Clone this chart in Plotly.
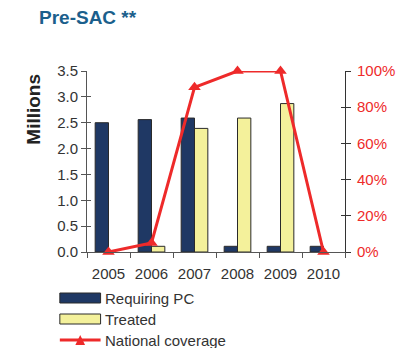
import plotly.graph_objects as go

# Pre-school-age children: people requiring preventive chemotherapy vs treated
years = ["2005", "2006", "2007", "2008", "2009", "2010"]
requiring_pc = [2.50, 2.56, 2.59, 0.11, 0.11, 0.11]   # millions
treated = [None, 0.11, 2.39, 2.59, 2.87, None]        # millions (no treatment reported -> None)
coverage = [0, 5, 91, 100, 100, 0]                    # national coverage, %

left_ticks = [0, 0.5, 1.0, 1.5, 2.0, 2.5, 3.0, 3.5]
left_labels = ["0.0", "0.5", "1.0", "1.5", "2.0", "2.5", "3.0", "3.5"]
right_ticks = [0, 20, 40, 60, 80, 100]
right_labels = ["0%", "20%", "40%", "60%", "80%", "100%"]

NAVY = "#1f3864"
YELLOW = "#f4f19b"
RED = "#ee2a2a"
EDGE = "#2a2a2a"
TXT = "#333333"
FONT = "Liberation Sans, Arial, sans-serif"

fig = go.Figure()
fig.add_trace(go.Bar(x=years, y=requiring_pc, name="Requiring PC",
                     marker=dict(color=NAVY, line=dict(color=EDGE, width=1)),
                     yaxis="y"))
fig.add_trace(go.Bar(x=years, y=treated, name="Treated",
                     marker=dict(color=YELLOW, line=dict(color=EDGE, width=1)),
                     yaxis="y"))
fig.add_trace(go.Scatter(x=years, y=coverage, name="National coverage",
                         mode="lines+markers", yaxis="y2", cliponaxis=False,
                         line=dict(color=RED, width=3),
                         marker=dict(symbol="triangle-up", size=11, color=RED)))

W, H = 407, 348
L, R, T, B = 87, 54, 71, 96
pw, ph = W - L - R, H - T - B


def px(x):
    return (x - L) / pw


def py(y):
    return (H - B - y) / ph


shapes = []
annotations = []
# Legend drawn as swatches below the chart
legend_rows = [
    ("Requiring PC", "bar", NAVY, 298),
    ("Treated", "bar", YELLOW, 319),
    ("National coverage", "line", RED, 340),
]
for label, kind, color, yc in legend_rows:
    if kind == "bar":
        shapes.append(dict(type="rect", xref="paper", yref="paper",
                           x0=px(59), x1=px(101), y0=py(yc - 5), y1=py(yc + 5),
                           fillcolor=color, line=dict(color=EDGE, width=1)))
    else:
        shapes.append(dict(type="line", xref="paper", yref="paper",
                           x0=px(59), x1=px(101), y0=py(yc), y1=py(yc),
                           line=dict(color=color, width=3)))
        shapes.append(dict(type="path", xref="paper", yref="paper",
                           path=f"M {px(75)},{py(yc + 5)} L {px(85)},{py(yc + 5)} "
                                f"L {px(80)},{py(yc - 5)} Z",
                           fillcolor=color, line=dict(color=color, width=0)))
    annotations.append(dict(text=label, xref="paper", yref="paper",
                            x=px(104), y=py(yc), xanchor="left", yanchor="middle",
                            showarrow=False, font=dict(size=15, color=TXT, family=FONT)))

annotations.append(dict(text="<b>Millions</b>", xref="paper", yref="paper",
                        x=px(31), y=py(109), textangle=-90, showarrow=False,
                        xanchor="center", yanchor="middle",
                        font=dict(size=19, color="#222222", family=FONT)))

fig.update_layout(
    width=W, height=H,
    margin=dict(l=L, r=R, t=T, b=B),
    paper_bgcolor="white", plot_bgcolor="white",
    font=dict(family=FONT, size=15, color=TXT),
    title=dict(text="<b>Pre-SAC **</b>", x=39 / W, xanchor="left",
               y=1 - 17 / H, yanchor="middle",
               font=dict(size=19, color="#1b5f8c", family=FONT)),
    barmode="group", bargap=0.38, bargroupgap=0,
    showlegend=False,
    shapes=shapes, annotations=annotations,
    xaxis=dict(type="category", showline=True, linecolor="#555555", linewidth=1,
               ticks="outside", tickson="boundaries", ticklen=5, tickcolor="#555555",
               ticklabelstandoff=8, tickangle=0,
               showgrid=False, zeroline=False, tickfont=dict(size=15, color=TXT)),
    yaxis=dict(range=[0, 3.5], tickvals=left_ticks, ticktext=left_labels,
               showline=True, linecolor="#555555", linewidth=1,
               ticks="outside", ticklen=5, tickcolor="#555555",
               showgrid=False, zeroline=False, tickfont=dict(size=15, color=TXT)),
    yaxis2=dict(range=[0, 100], tickvals=right_ticks, ticktext=right_labels,
                overlaying="y", side="right", showline=True, linecolor="#333333",
                linewidth=1, ticks="outside", ticklen=5, tickcolor="#333333",
                ticklabelstandoff=3,
                showgrid=False, zeroline=False, tickfont=dict(size=15, color=RED)),
    # inner halves of the crossing tick marks
    yaxis3=dict(range=[0, 3.5], tickvals=left_ticks, overlaying="y", side="left",
                showticklabels=False, ticks="inside", ticklen=4, tickcolor="#555555",
                showline=False, showgrid=False, zeroline=False),
    yaxis4=dict(range=[0, 100], tickvals=right_ticks, overlaying="y", side="right",
                showticklabels=False, ticks="inside", ticklen=4, tickcolor="#333333",
                showline=False, showgrid=False, zeroline=False),
)
# invisible traces so the inner-tick axes are rendered
fig.add_trace(go.Scatter(x=[years[0]], y=[0], yaxis="y3", mode="markers",
                         marker=dict(opacity=0), hoverinfo="skip"))
fig.add_trace(go.Scatter(x=[years[0]], y=[0], yaxis="y4", mode="markers",
                         marker=dict(opacity=0), hoverinfo="skip"))

fig.write_html("out.html")
